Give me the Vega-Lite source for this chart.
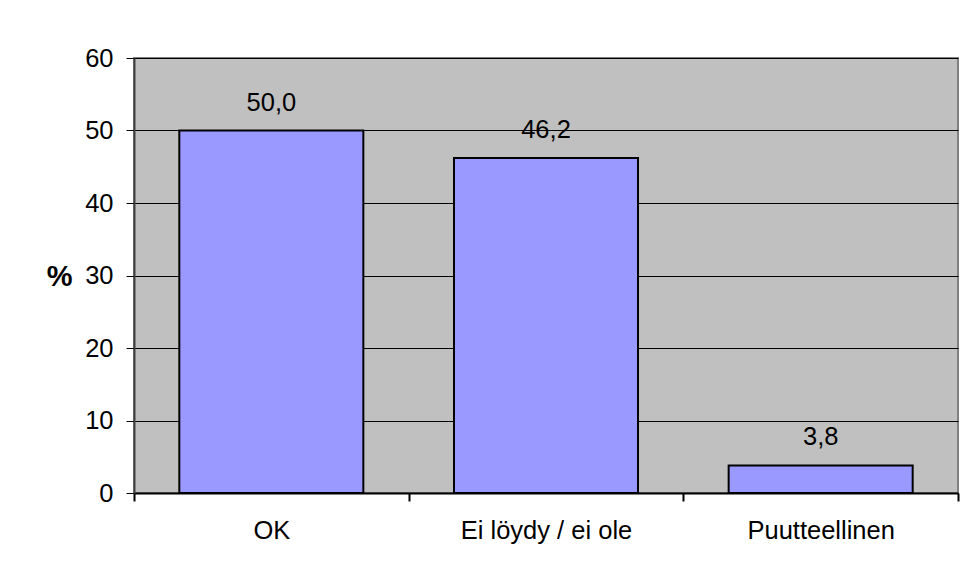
{
  "$schema": "https://vega.github.io/schema/vega-lite/v6.json",
  "autosize": "none",
  "width": 824,
  "height": 435,
  "padding": {"left": 134, "top": 58, "right": 19, "bottom": 88},
  "background": "white",
  "data": {
    "values": [
      {"kategoria": "OK", "prosentti": 50.0},
      {"kategoria": "Ei löydy / ei ole", "prosentti": 46.2},
      {"kategoria": "Puutteellinen", "prosentti": 3.8}
    ]
  },
  "config": {
    "locale": {"number": {"decimal": ",", "thousands": " ", "grouping": [3], "currency": ["", " €"]}},
    "font": "Liberation Sans",
    "view": {"fill": "#C0C0C0", "stroke": "#808080", "strokeWidth": 2},
    "axis": {"labelFont": "Liberation Sans", "titleFont": "Liberation Sans", "labelColor": "black", "titleColor": "black"}
  },
  "encoding": {
    "x": {
      "field": "kategoria",
      "type": "nominal",
      "sort": null,
      "scale": {"paddingInner": 0, "paddingOuter": 0},
      "axis": {
        "title": null,
        "labelAngle": 0,
        "labelFontSize": 25.5,
        "labelPadding": 17,
        "tickBand": "extent",
        "tickColor": "black",
        "tickSize": 8,
        "tickWidth": 2,
        "domainColor": "black",
        "domainWidth": 2
      }
    },
    "y": {
      "field": "prosentti",
      "type": "quantitative",
      "scale": {"domain": [0, 60]},
      "axis": {
        "values": [0, 10, 20, 30, 40, 50, 60],
        "title": "%",
        "titleAngle": 0,
        "titleFontSize": 29,
        "titleFontWeight": "bold",
        "titleX": -62,
        "titleY": 218,
        "titleAlign": "right",
        "titleBaseline": "middle",
        "labelFontSize": 25.5,
        "labelPadding": 13,
        "tickSize": 8,
        "tickColor": "black",
        "grid": true,
        "gridColor": "black",
        "gridWidth": 1,
        "domainColor": "#404040",
        "domainWidth": 2
      }
    }
  },
  "layer": [
    {
      "mark": {"type": "bar", "width": {"band": 0.67}, "fill": "#9999FF", "stroke": "black", "strokeWidth": 2}
    },
    {
      "mark": {"type": "text", "fontSize": 25.5, "dy": -20, "baseline": "alphabetic", "font": "Liberation Sans", "color": "black"},
      "encoding": {
        "text": {"field": "prosentti", "type": "quantitative", "format": ".1f"}
      }
    }
  ]
}
